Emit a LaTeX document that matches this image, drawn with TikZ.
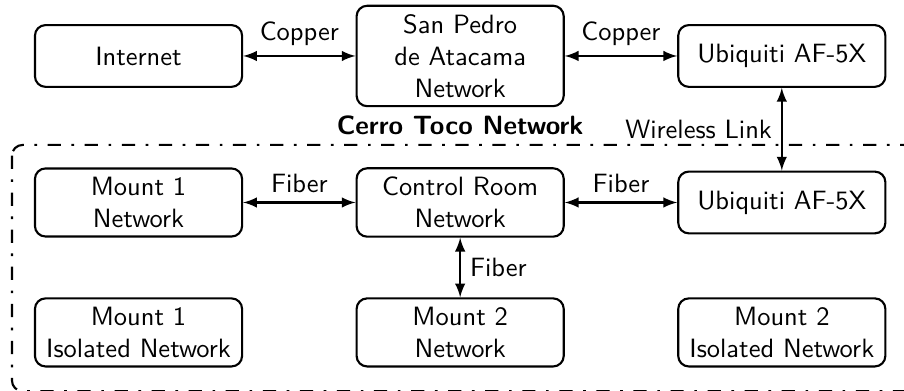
\documentclass[tikz,border=0pt]{standalone}
\usetikzlibrary{positioning}

\begin{document}
\begin{tikzpicture}[font=\sffamily, >=latex, thick,
    net/.style={draw, rounded corners, align=center, minimum width=2.75cm, minimum height=0.82cm},
    site/.style={dash pattern=on 5pt off 4pt on 1pt off 4pt, rounded corners}]
    \useasboundingbox (-1.839, 0.743) rectangle (10.162, -4.447);
    \path (0, 0) node [net] (inet) {Internet};
    \path (4.27, 0) node [net] (spa) {San Pedro\\de Atacama\\Network};
    \draw [<->] (inet) -- (spa) node[midway,above] (cu1) {Copper};
    \path (8.54, 0) node [net] (ubt) {Ubiquiti AF-5X};
    \draw [<->] (spa) -- (ubt) node[midway,above] (cu2) {Copper};
    % Cerro Toco site
    \draw [site] (-1.68, -1.181) rectangle (10.3, -4.45);
    \path (4.27, -1.181) node [above, font=\sffamily\bfseries] (ct) {Cerro Toco Network};
    \path (0, -1.945) node [net] (m1) {Mount 1\\Network};
    \path (4.27, -1.945) node [net] (cr) {Control Room\\Network};
    \draw [<->] (m1) -- (cr) node[midway,above] (fb1) {Fiber};
    \path (8.54, -1.945) node [net] (ubb) {Ubiquiti AF-5X};
    \draw [<->] (cr) -- (ubb) node[midway,above] (fb2) {Fiber};
    \draw [<->] (ubt) -- (ubb) node[midway,left] (wl) {Wireless Link};
    \path (0, -3.67) node [net] (m1i) {Mount 1\\Isolated Network};
    \path (4.27, -3.67) node [net] (m2) {Mount 2\\Network};
    \draw [<->] (cr) -- (m2) node[midway,right] (fb3) {Fiber};
    \path (8.54, -3.67) node [net] (m2i) {Mount 2\\Isolated Network};
\end{tikzpicture}
\end{document}
